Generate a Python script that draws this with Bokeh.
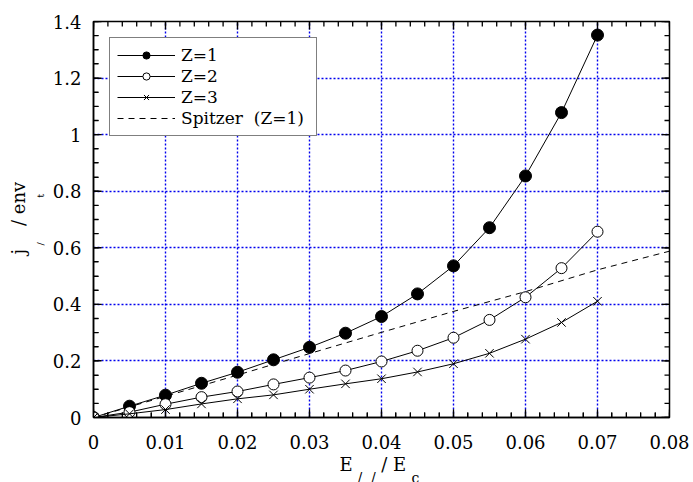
from bokeh.plotting import figure
from bokeh.models import (FixedTicker, CustomJSTickFormatter, Legend,
                          LegendItem, Title, Range1d)
from bokeh.embed import file_html
from bokeh.resources import INLINE

# ---------------- data ----------------
e_ratio = [0.0, 0.005, 0.01, 0.015, 0.02, 0.025, 0.03, 0.035, 0.04, 0.045,
           0.05, 0.055, 0.06, 0.065, 0.07]
j_z1 = [0.0, 0.040, 0.079, 0.121, 0.160, 0.204, 0.248, 0.298, 0.357, 0.437,
        0.536, 0.671, 0.854, 1.078, 1.352]
j_z2 = [0.0, 0.019, 0.047, 0.072, 0.092, 0.117, 0.141, 0.166, 0.198, 0.236,
        0.282, 0.345, 0.425, 0.528, 0.657]
j_z3 = [0.0, 0.013, 0.028, 0.048, 0.066, 0.080, 0.100, 0.119, 0.137, 0.161,
        0.190, 0.227, 0.277, 0.336, 0.411]
spitzer_e = [0.0, 0.01, 0.02, 0.03, 0.04, 0.05, 0.06, 0.07, 0.08]
spitzer_j = [0.0, 0.075, 0.150, 0.226, 0.301, 0.375, 0.445, 0.522, 0.588]

x_ticks = [0.0, 0.01, 0.02, 0.03, 0.04, 0.05, 0.06, 0.07, 0.08]
x_labels = ["0", "0.01", "0.02", "0.03", "0.04", "0.05", "0.06", "0.07", "0.08"]
y_ticks = [0.0, 0.2, 0.4, 0.6, 0.8, 1.0, 1.2, 1.4]
y_labels = ["0", "0.2", "0.4", "0.6", "0.8", "1", "1.2", "1.4"]

legend_labels = ["Z=1", "Z=2", "Z=3", "Spitzer\u00a0\u00a0(Z=1)"]

FONT = "DejaVu Serif"
NB = "\u00a0"

X0, X1 = 0.0, 0.08
Y0, Y1 = 0.0, 1.4

# ---------------- figure ----------------
W, H = 693, 482
FRAME_W, FRAME_H = 576, 396
p = figure(width=W, height=H, output_backend="svg", toolbar_location=None,
           x_range=Range1d(X0, X1), y_range=Range1d(Y0, Y1),
           min_border_left=93, min_border_right=24, min_border_top=21,
           min_border_bottom=65, background_fill_color=None,
           border_fill_color="white")
p.outline_line_color = "black"
p.outline_line_width = 1.5

x_minor = [i * 0.002 for i in range(41)]
y_minor = [i * 0.05 for i in range(29)]
xt = FixedTicker(ticks=x_ticks, minor_ticks=x_minor)
yt = FixedTicker(ticks=y_ticks, minor_ticks=y_minor)

fmt_code = """
let best = 0; let d = 1e9;
for (let i = 0; i < tvals.length; i++) {
  const dd = Math.abs(tvals[i] - tick);
  if (dd < d) { d = dd; best = i; }
}
return tlabels[best];
"""
xfmt = CustomJSTickFormatter(args=dict(tvals=x_ticks, tlabels=x_labels), code=fmt_code)
yfmt = CustomJSTickFormatter(args=dict(tvals=y_ticks, tlabels=y_labels), code=fmt_code)

def style_axis(ax, ticker, formatter):
    ax.ticker = ticker
    ax.formatter = formatter
    ax.axis_line_color = "black"
    ax.axis_line_width = 1.5
    ax.major_tick_in = 8
    ax.major_tick_out = 0
    ax.minor_tick_in = 5
    ax.minor_tick_out = 0
    ax.major_tick_line_color = "black"
    ax.minor_tick_line_color = "black"
    ax.major_label_text_font = FONT
    ax.major_label_text_font_size = "18px"
    ax.major_label_text_color = "black"

style_axis(p.xaxis[0], xt, xfmt)
style_axis(p.yaxis[0], yt, yfmt)
p.xaxis[0].major_label_standoff = 17
p.yaxis[0].major_label_standoff = 12

for g, t in ((p.xgrid[0], xt), (p.ygrid[0], yt)):
    g.ticker = t
    g.grid_line_color = "#0000ee"
    g.grid_line_width = 1.4
    g.grid_line_dash = "2 2"

# inward tick marks on all four frame edges, built from the tick lists
MINOR_PX, MAJOR_PX = 5, 8
dy_min = MINOR_PX * (Y1 - Y0) / FRAME_H
dy_maj = MAJOR_PX * (Y1 - Y0) / FRAME_H
dx_min = MINOR_PX * (X1 - X0) / FRAME_W
dx_maj = MAJOR_PX * (X1 - X0) / FRAME_W
for xs, d in ((x_minor, dy_min), (x_ticks, dy_maj)):
    p.segment(x0=xs, y0=[Y0] * len(xs), x1=xs, y1=[Y0 + d] * len(xs),
              line_color="black", line_width=1.3)
    p.segment(x0=xs, y0=[Y1] * len(xs), x1=xs, y1=[Y1 - d] * len(xs),
              line_color="black", line_width=1.3)
for ys, d in ((y_minor, dx_min), (y_ticks, dx_maj)):
    p.segment(x0=[X0] * len(ys), y0=ys, x1=[X0 + d] * len(ys), y1=ys,
              line_color="black", line_width=1.3)
    p.segment(x0=[X1] * len(ys), y0=ys, x1=[X1 - d] * len(ys), y1=ys,
              line_color="black", line_width=1.3)

# ---------------- series ----------------
r_sp = p.line(spitzer_e, spitzer_j, line_color="black", line_width=1,
              line_dash="6 5")
l1 = p.line(e_ratio, j_z1, line_color="black", line_width=1)
m1 = p.scatter(e_ratio, j_z1, marker="circle", size=12, fill_color="black",
               line_color="black")
l2 = p.line(e_ratio, j_z2, line_color="black", line_width=1)
m2 = p.scatter(e_ratio, j_z2, marker="circle", size=11, fill_color="white",
               line_color="black", line_width=1)
l3 = p.line(e_ratio, j_z3, line_color="black", line_width=1)
m3 = p.scatter(e_ratio, j_z3, marker="x", size=12, line_color="black",
               line_width=1)

legend = Legend(items=[
    LegendItem(label=legend_labels[0], renderers=[l1, m1]),
    LegendItem(label=legend_labels[1], renderers=[l2, m2]),
    LegendItem(label=legend_labels[2], renderers=[l3, m3]),
    LegendItem(label=legend_labels[3], renderers=[r_sp]),
], location="top_left")
legend.margin = 16
legend.padding = 7
legend.spacing = 1
legend.glyph_width = 58
legend.glyph_height = 18
legend.label_height = 18
legend.label_width = 128
legend.label_standoff = 6
legend.label_text_font = FONT
legend.label_text_font_size = "17px"
legend.label_text_color = "black"
legend.border_line_color = "black"
legend.border_line_width = 1.2
legend.background_fill_color = "white"
legend.background_fill_alpha = 1
p.add_layout(legend, "center")

# ---------------- axis titles with subscripts (stacked title lines) ------------
def title(text, size, offset, standoff):
    return Title(text=text, text_font=FONT, text_font_size=size,
                 text_font_style="normal", text_color="black", align="left",
                 offset=offset, standoff=standoff)

# x title: main line, then subscript line below it
p.add_layout(title("E" + NB * 5 + "/ E", "18px", 246, 0), "below")
p.add_layout(title("/" + NB * 2 + "/" + NB * 8 + "c", "14px", 264, -14), "below")
# y title: subscript line nearest to the axis, then main line
p.add_layout(title("/" + NB * 14 + "t", "10px", 172, 8), "left")
p.add_layout(title("j" + NB * 4 + "/" + NB + "env", "18px", 163, 0), "left")

open("out.html", "w").write(file_html(p, INLINE))
